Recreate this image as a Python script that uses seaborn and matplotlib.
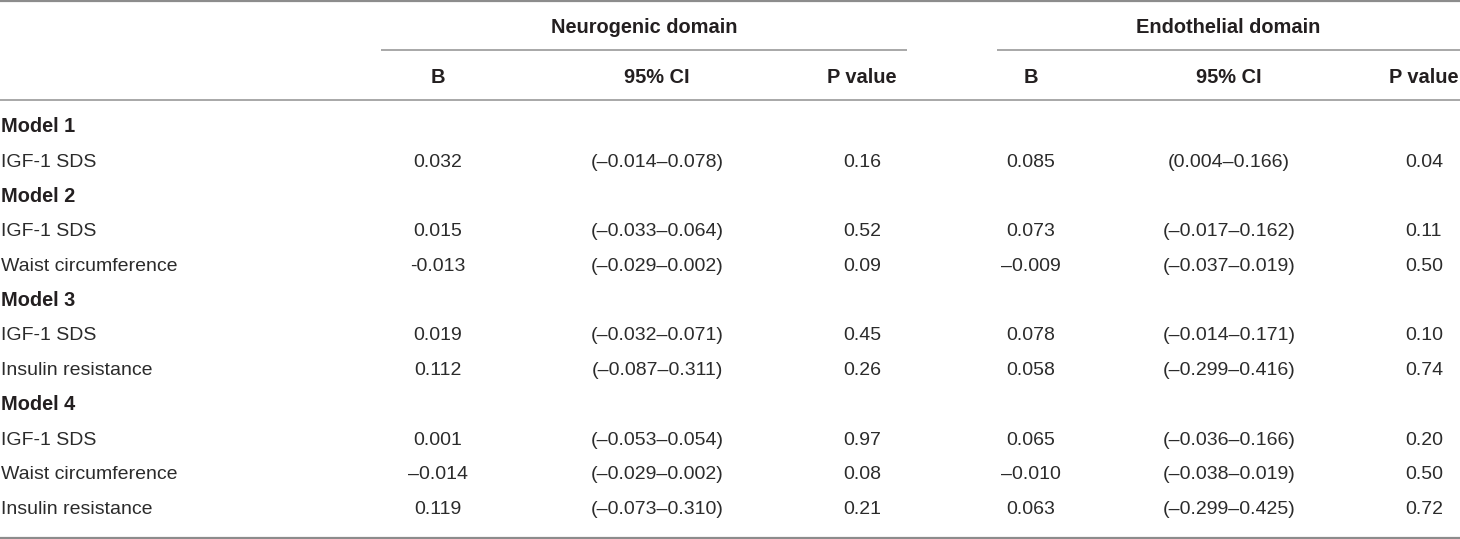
import matplotlib
matplotlib.use("Agg")
import matplotlib.pyplot as plt
import seaborn as sns

sns.set_theme(style="white")
plt.rcParams['font.family'] = ['Liberation Sans', 'DejaVu Sans']

# ---- data ----
domains = ["Neurogenic domain", "Endothelial domain"]
col_heads = ["B", "95% CI", "P value"]
row_labels = ["Model 1", "IGF-1 SDS", "Model 2", "IGF-1 SDS", "Waist circumference",
              "Model 3", "IGF-1 SDS", "Insulin resistance",
              "Model 4", "IGF-1 SDS", "Waist circumference", "Insulin resistance"]
row_is_group = [True, False, True, False, False, True, False, False, True, False, False, False]
neuro_B = ["", "0.032", "", "0.015", "-0.013", "", "0.019", "0.112", "", "0.001", "\u20130.014", "0.119"]
neuro_CI = ["", "(\u20130.014\u20130.078)", "", "(\u20130.033\u20130.064)", "(\u20130.029\u20130.002)", "",
            "(\u20130.032\u20130.071)", "(\u20130.087\u20130.311)", "",
            "(\u20130.053\u20130.054)", "(\u20130.029\u20130.002)", "(\u20130.073\u20130.310)"]
neuro_P = ["", "0.16", "", "0.52", "0.09", "", "0.45", "0.26", "", "0.97", "0.08", "0.21"]
endo_B = ["", "0.085", "", "0.073", "\u20130.009", "", "0.078", "0.058", "", "0.065", "\u20130.010", "0.063"]
endo_CI = ["", "(0.004\u20130.166)", "", "(\u20130.017\u20130.162)", "(\u20130.037\u20130.019)", "",
           "(\u20130.014\u20130.171)", "(\u20130.299\u20130.416)", "",
           "(\u20130.036\u20130.166)", "(\u20130.038\u20130.019)", "(\u20130.299\u20130.425)"]
endo_P = ["", "0.04", "", "0.11", "0.50", "", "0.10", "0.74", "", "0.20", "0.50", "0.72"]

# ---- layout (pixel coordinates) ----
W, H = 1460, 539
fig = plt.figure(figsize=(W / 100, H / 100), dpi=100)
ax = fig.add_axes([0, 0, 1, 1])
ax.set_xlim(0, W)
ax.set_ylim(H, 0)
ax.axis("off")

txt = "#231f20"
body_txt = "#2b2b2b"
fs = 14.0
fs_b = 14.4
col_x = [438, 657, 862, 1031, 1229, 1424]
dom_spans = [(381, 907), (997, 1460)]
row0 = 132.3
dy = 34.7

# rules
ax.hlines([1.2, 537.5], 0, W, color="#8c8c8c", lw=1.6)
ax.hlines(99.5, 0, W, color="#a8a8a8", lw=1.4)
for (x0, x1) in dom_spans:
    ax.hlines(50, x0, x1, color="#a8a8a8", lw=1.4)

# header
for d, (x0, x1) in zip(domains, dom_spans):
    ax.text((x0 + x1) / 2, 33, d, ha="center", va="baseline", fontsize=fs_b,
            fontweight="bold", color=txt)
for i, x in enumerate(col_x):
    ax.text(x, 83, col_heads[i % 3], ha="center", va="baseline", fontsize=fs_b,
            fontweight="bold", color=txt)

# body
cols = [neuro_B, neuro_CI, neuro_P, endo_B, endo_CI, endo_P]
for r, lab in enumerate(row_labels):
    y = row0 + dy * r
    grp = row_is_group[r]
    ax.text(1, y, lab, ha="left", va="baseline", fontsize=fs_b if grp else fs,
            color=txt if grp else body_txt, fontweight="bold" if grp else "normal")
    for c, x in zip(cols, col_x):
        if c[r]:
            ax.text(x, y, c[r], ha="center", va="baseline", fontsize=fs, color=body_txt)

fig.savefig("out.png", dpi=100, facecolor="white")
